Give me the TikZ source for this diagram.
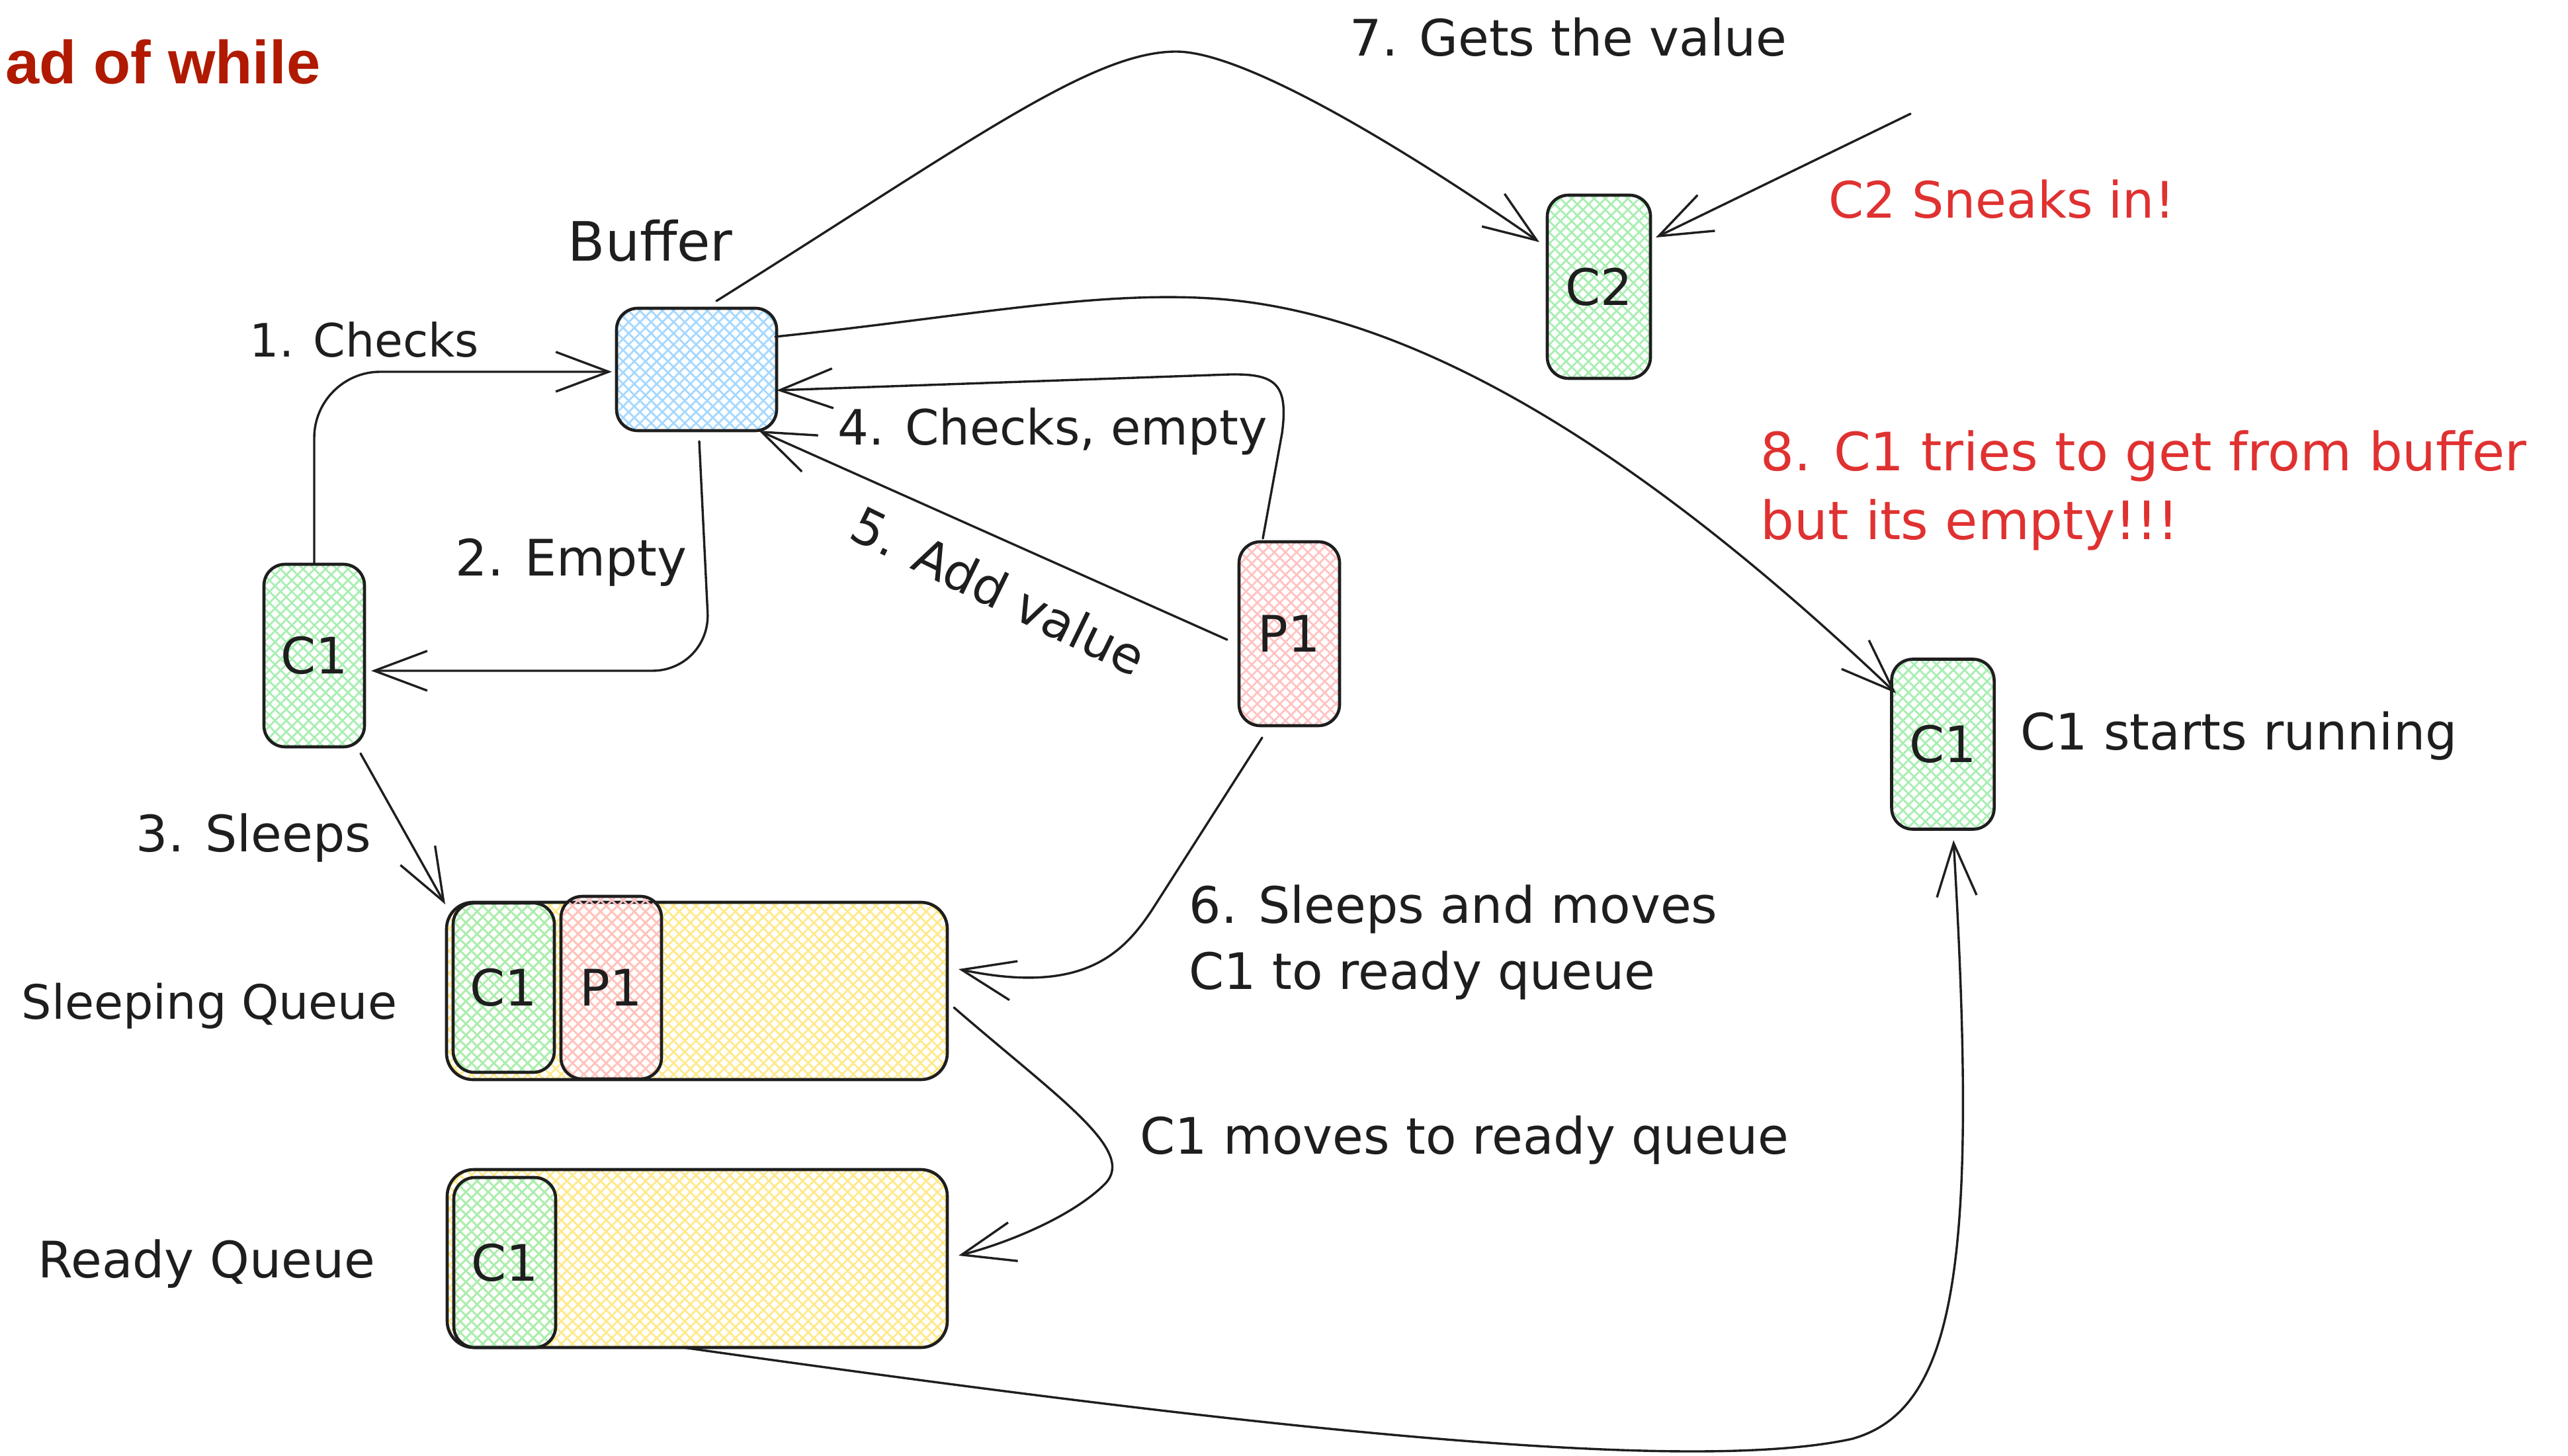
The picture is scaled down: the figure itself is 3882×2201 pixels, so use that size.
\documentclass[tikz,border=0pt]{standalone}
\usepackage{fontspec}
\setmainfont{DejaVu Sans}
\newfontfamily\titlefont{Liberation Sans}
\usetikzlibrary{arrows.meta,patterns.meta,calc}
\definecolor{ink}{HTML}{1E1E1E}
\definecolor{hgreen}{HTML}{A8EEB2}
\definecolor{hblue}{HTML}{A5D8FF}
\definecolor{hred}{HTML}{FFC2C2}
\definecolor{hyellow}{HTML}{FFE98A}
\definecolor{redtext}{HTML}{E03131}
\definecolor{titlered}{HTML}{B01A00}
\newcommand\lblfont{\fontsize{19}{25}\selectfont}
\tikzset{
  hatchbox/.style={draw=ink, line width=1.15pt, rounded corners=8pt, inner sep=0pt, outer sep=0pt,
    preaction={pattern={Lines[angle=45,distance=3pt,line width=0.7pt]}, pattern color=#1},
    preaction={pattern={Lines[angle=-45,distance=3pt,line width=0.7pt]}, pattern color=#1},
    font=\lblfont, text=ink},
  arr/.style={draw=ink, line width=0.85pt, line cap=round, line join=round,
    -{Straight Barb[length=20pt,width=15pt]}},
  lbl/.style={font=\lblfont, text=ink, inner sep=0pt, anchor=base west},
}
\begin{document}
\begin{tikzpicture}[x=0.25pt,y=-0.25pt]
\fill[white] (0,0) rectangle (3882,2201);
% boxes
\node[hatchbox=hyellow, rounded corners=10pt, minimum width=189.25pt, minimum height=67pt] (sq) at (1053.5,1498) {};
\node[hatchbox=hgreen, minimum width=38.25pt, minimum height=64pt] (sqc1) at (761.5,1493) {C1};
\node[hatchbox=hred, minimum width=38pt, minimum height=69pt] (sqp1) at (924,1493) {P1};
\node[hatchbox=hyellow, rounded corners=10pt, minimum width=189pt, minimum height=67.25pt] (rq) at (1054,1902.5) {};
\node[hatchbox=hgreen, minimum width=38.5pt, minimum height=64.25pt] (rqc1) at (763,1908.5) {C1};
\node[hatchbox=hblue, minimum width=60.5pt, minimum height=46.25pt] (buf) at (1053,558.5) {};
\node[hatchbox=hgreen, minimum width=38pt, minimum height=69pt] (c1a) at (475,991) {C1};
\node[hatchbox=hred, minimum width=38pt, minimum height=69.5pt] (p1) at (1949,958) {P1};
\node[hatchbox=hgreen, minimum width=39pt, minimum height=69.25pt] (c2) at (2417,433.5) {C2};
\node[hatchbox=hgreen, minimum width=38.75pt, minimum height=64.25pt] (c1b) at (2937,1125) {C1};
% labels
\node[lbl, font={\titlefont\bfseries\fontsize{23}{28}\selectfont}, text=titlered] (title) at (8,127) {ad of while};
\node[lbl, font={\fontsize{20.5}{25}\selectfont}] (tbuf) at (858,395) {Buffer};
\node[lbl, font={\fontsize{17.4}{25}\selectfont}] (t1) at (377,540) {1. Checks};
\node[lbl] (t2) at (688,871) {2. Empty};
\node[lbl, font={\fontsize{18.4}{25}\selectfont}] (t4) at (1266,673) {4. Checks, empty};
\node[lbl, anchor=center, rotate=-26] (t5) at (1510,893) {5. Add value};
\node[lbl] (t3) at (205,1287) {3. Sleeps};
\node[lbl, font={\fontsize{17.9}{25}\selectfont}] (tsq) at (32,1540) {Sleeping Queue};
\node[lbl] (trq) at (57,1931) {Ready Queue};
\node[lbl, anchor=north west, align=left] (t6) at (1797,1337) {6. Sleeps and moves\\C1 to ready queue};
\node[lbl] (tmv) at (1723,1744) {C1 moves to ready queue};
\node[lbl] (t7) at (2040,85) {7. Gets the value};
\node[lbl, text=redtext] (tc2) at (2764,330) {C2 Sneaks in!};
\node[lbl, text=redtext, anchor=north west, align=left, font={\fontsize{20}{26}\selectfont}] (t8) at (2661,650) {8. C1 tries to get from buffer\\but its empty!!!};
\node[lbl] (trun) at (3054,1133) {C1 starts running};
% connectors
\draw[arr, rounded corners=25pt] (c1a.north) |- ([shift={(-7,3.5)}]buf.west);
\draw[arr, rounded corners=22pt] ([shift={(4,16)}]buf.south) -- (1074,1014) -- ([shift={(10,23)}]c1a.east);
\draw[arr] ([shift={(-6,10)}]c1a.south east) -- ([shift={(-2,3)}]sq.north west);
\draw[arr] ([shift={(-40,-5)}]p1.north) -- (1938,655) .. controls (1948,580) and (1928,565) .. (1860,566) -- ([shift={(0,31.5)}]buf.east);
\draw[arr] ([shift={(-18,9)}]p1.west) -- ([shift={(-27,0)}]buf.south east);
\draw[arr] ([shift={(-41,18)}]p1.south) -- (1745,1370) .. controls (1700,1440) and (1640,1505) .. ([shift={(17,-33)}]sq.east);
\draw[arr] ([shift={(10,25)}]sq.east) .. controls (1600,1660) and (1720,1740) .. (1670,1790) .. controls (1620,1840) and (1520,1880) .. ([shift={(17,-4.5)}]rq.east);
\draw[arr] ([shift={(-21,0)}]rq.south) .. controls (1900,2160) and (2550,2230) .. (2800,2175) .. controls (2960,2130) and (2990,1900) .. ([shift={(16,16.5)}]c1b.south);
\draw[arr] ([shift={(30,-11)}]buf.north) .. controls (1467,214) and (1650,78) .. (1778,78) .. controls (1880,78) and (2115,219) .. ([shift={(-12,-67.5)}]c2.west);
\coordinate (c2src) at (2888,172);
\draw[arr] (c2src) -- ([shift={(8,-74.5)}]c2.east);
\draw[arr] ([shift={(-2,-49.5)}]buf.east) .. controls (1450,480) and (1650,440) .. (1829,451) .. controls (2150,470) and (2500,700) .. ([shift={(6.5,51.5)}]c1b.north west);
\pgfresetboundingbox
\path[use as bounding box] (0,0) rectangle (3882,2201);
\end{tikzpicture}
\end{document}
